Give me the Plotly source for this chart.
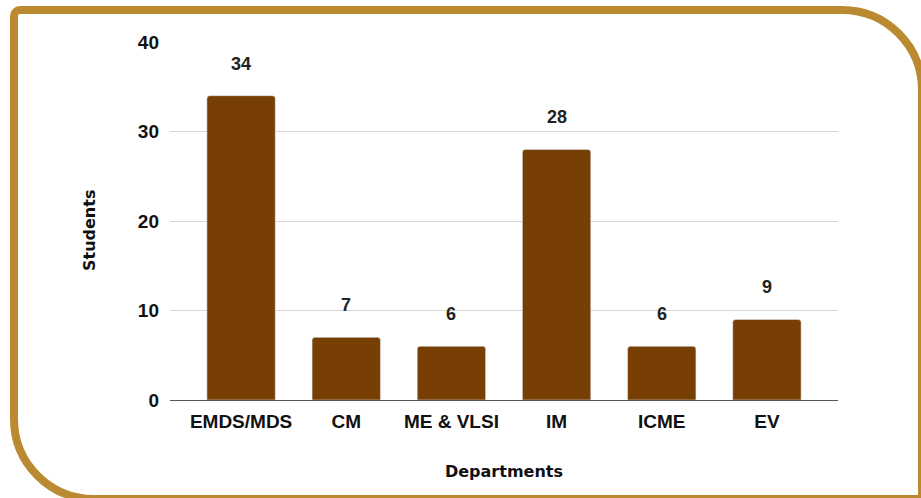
import plotly.graph_objects as go

departments = ["EMDS/MDS", "CM", "ME & VLSI", "IM", "ICME", "EV"]
students = [34, 7, 6, 28, 6, 9]
y_ticks = [0, 10, 20, 30, 40]

BAR = "#783f04"
GOLD = "#bb8a30"
W, H = 921, 498
L, R, T, B = 170, 83, 42, 98


def px(x, y):
    # pixel position -> paper coords
    return (x - L) / (W - L - R), (H - B - y) / (H - T - B)


def frame_path():
    k = 0.5523
    left, top, right, bottom = 14, 10, 922, 499
    r_tl, r_tr, r_bl = 6, 80, 80

    def P(x, y):
        a, b = px(x, y)
        return f"{a:.5f},{b:.5f}"
    d = f"M {P(left, top + r_tl)} "
    d += f"C {P(left, top + r_tl * (1 - k))} {P(left + r_tl * (1 - k), top)} {P(left + r_tl, top)} "
    d += f"L {P(right - r_tr, top)} "
    d += f"C {P(right - r_tr * (1 - k), top)} {P(right, top + r_tr * (1 - k))} {P(right, top + r_tr)} "
    d += f"L {P(right, bottom)} "
    d += f"L {P(left + r_bl, bottom)} "
    d += f"C {P(left + r_bl * (1 - k), bottom)} {P(left, bottom - r_bl * (1 - k))} {P(left, bottom - r_bl)} "
    d += "Z"
    return d


fig = go.Figure()
fig.add_trace(go.Bar(x=departments, y=students, marker=dict(color=BAR, cornerradius=3),
                     width=0.65, hoverinfo="skip"))

# value labels sit well above the bars
for d, v in zip(departments, students):
    fig.add_annotation(x=d, y=v, text=str(v), showarrow=False, yshift=32,
                       font=dict(family="Liberation Sans", size=18, color="#222", weight="bold"))

# y title sits a bit below the middle of the axis, so place it by hand
tx, ty = px(89, 231)
fig.add_annotation(xref="paper", yref="paper", x=tx, y=ty, xanchor="center", yanchor="middle",
                   text="Students", textangle=-90, showarrow=False,
                   font=dict(family="DejaVu Sans", size=16, color="#111", weight="bold"))

fig.add_shape(type="path", xref="paper", yref="paper", path=frame_path(),
              line=dict(color=GOLD, width=8), layer="above")

fig.update_layout(
    width=W, height=H,
    margin=dict(l=L, r=R, t=T, b=B),
    paper_bgcolor="white", plot_bgcolor="white",
    showlegend=False,
    font=dict(family="Liberation Sans", size=18, color="#111"),
)
fig.update_xaxes(range=[-0.676, 5.676], showgrid=False,
                 ticks="outside", ticklen=4, tickcolor="rgba(0,0,0,0)",
                 tickfont=dict(family="Liberation Sans", size=19, color="#111", weight="bold"),
                 title=dict(text="Departments", standoff=35,
                            font=dict(family="DejaVu Sans", size=16, color="#111", weight="bold")))
fig.update_yaxes(range=[0, 40], tickvals=y_ticks, showgrid=True, gridcolor="#d6d6d6", gridwidth=1,
                 zeroline=True, zerolinecolor="#555", zerolinewidth=1, ticklabelstandoff=10,
                 tickfont=dict(family="Liberation Sans", size=19, color="#111", weight="bold"))

# drop the default 8px page margin so the figure fills the window exactly
fig.write_html("out.html", config={"displayModeBar": False},
               post_script="document.body.style.margin='0';")
